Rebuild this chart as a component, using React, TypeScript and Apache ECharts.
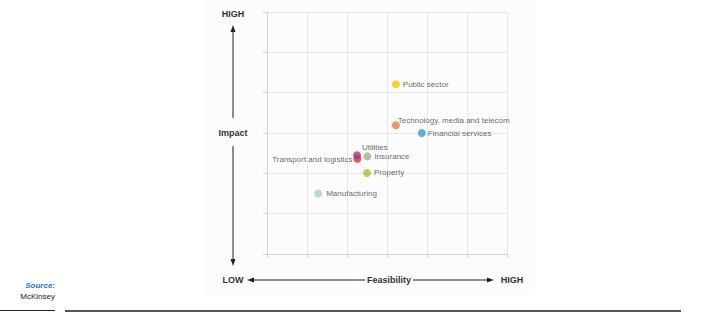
import React, { useEffect, useRef } from "react";
import * as echarts from "echarts";

const sectors = [
  "Public sector",
  "Technology, media and telecom",
  "Financial services",
  "Insurance",
  "Property",
  "Manufacturing",
  "Transport and logistics",
  "Utilities",
];
const feasibility = [3.22, 3.22, 3.87, 2.51, 2.5, 1.28, 2.26, 2.25];
const impact = [4.21, 3.19, 3.0, 2.42, 2.01, 1.5, 2.36, 2.45];
const colors = ["#f7c600", "#e87a3e", "#2aa0dc", "#a9ab8a", "#a9c41e", "#a3d7b0", "#e0283c", "#a33a7c"];
// label offsets (dx, dy from point centre) and alignment
const labelStyle: Array<[number, number, "left" | "right"]> = [
  [7, 0, "left"],
  [2, -5, "left"],
  [6, 0, "left"],
  [7, 0, "left"],
  [7, 0, "left"],
  [8, 0, "left"],
  [-5, 1, "right"],
  [5, -8, "left"],
];

const AX = 233;
const HY = 280;

export default function App() {
  const ref = useRef<HTMLDivElement>(null);
  useEffect(() => {
    const chart = echarts.init(ref.current!, undefined, { renderer: "svg" });
    const font = "'Liberation Sans', Arial, Helvetica, sans-serif";
    const data = sectors.map((name, i) => ({
      name,
      value: [feasibility[i], impact[i]],
      itemStyle: { color: colors[i] },
      label: {
        show: true,
        formatter: name,
        position: [4 + labelStyle[i][0], 4 + labelStyle[i][1]],
        align: labelStyle[i][2],
        verticalAlign: "middle",
        color: "#3c3c3c",
        fontSize: 8,
        fontFamily: font,
      },
    }));
    const axisCommon = {
      type: "value",
      min: 0,
      max: 6,
      interval: 1,
      axisLabel: { show: false },
      axisLine: { show: true, lineStyle: { color: "#d4d4d4", width: 1 } },
      axisTick: { show: true, length: 4, lineStyle: { color: "#d4d4d4" } },
      splitLine: { show: true, lineStyle: { color: "#e8e8e8", width: 1 } },
    };
    const boldText = (text: string, x: number, y: number) => ({
      type: "text",
      x,
      y,
      style: {
        text,
        fill: "#333",
        font: `bold 9px ${font}`,
        align: "center",
        verticalAlign: "middle",
      },
    });
    const line = (x1: number, y1: number, x2: number, y2: number) => ({
      type: "line",
      shape: { x1, y1, x2, y2 },
      style: { stroke: "#222", lineWidth: 1 },
    });
    const tri = (points: number[][]) => ({
      type: "polygon",
      shape: { points },
      style: { fill: "#222" },
    });
    chart.setOption({
      animation: false,
      grid: { left: 267, top: 12, width: 240, height: 242 },
      xAxis: { ...axisCommon },
      yAxis: { ...axisCommon },
      graphic: [
        {
          type: "rect",
          z: -10,
          shape: { x: 205, y: 0, width: 330, height: 295 },
          style: { fill: "#fcfcfc" },
        },
        boldText("HIGH", AX, 14),
        boldText("Impact", AX, 133),
        boldText("LOW", AX, HY),
        boldText("Feasibility", 389, HY),
        boldText("HIGH", 512, HY),
        line(AX, 31, AX, 118),
        tri([[AX, 25], [AX - 2.5, 32], [AX + 2.5, 32]]),
        line(AX, 146, AX, 259),
        tri([[AX, 266], [AX - 2.5, 259], [AX + 2.5, 259]]),
        line(254, HY, 365, HY),
        tri([[247, HY], [254, HY - 2.5], [254, HY + 2.5]]),
        line(413, HY, 487, HY),
        tri([[494, HY], [487, HY - 2.5], [487, HY + 2.5]]),
        {
          type: "text",
          x: 55,
          y: 285,
          style: {
            text: "Source:",
            fill: "#1f6fd6",
            font: `italic bold 8px ${font}`,
            align: "right",
            verticalAlign: "middle",
          },
        },
        {
          type: "text",
          x: 55,
          y: 296,
          style: {
            text: "McKinsey",
            fill: "#222",
            font: `8px ${font}`,
            align: "right",
            verticalAlign: "middle",
          },
        },
        line(0, 310.5, 55, 310.5),
        {
          type: "line",
          shape: { x1: 65, y1: 311, x2: 681, y2: 311 },
          style: { stroke: "#555", lineWidth: 2 },
        },
      ],
      series: [
        {
          type: "scatter",
          symbolSize: 8,
          data,
        },
      ],
    });
    return () => chart.dispose();
  }, []);
  return (
    <div
      ref={ref}
      style={{ position: "absolute", left: 0, top: 0, width: 705, height: 325 }}
    />
  );
}
